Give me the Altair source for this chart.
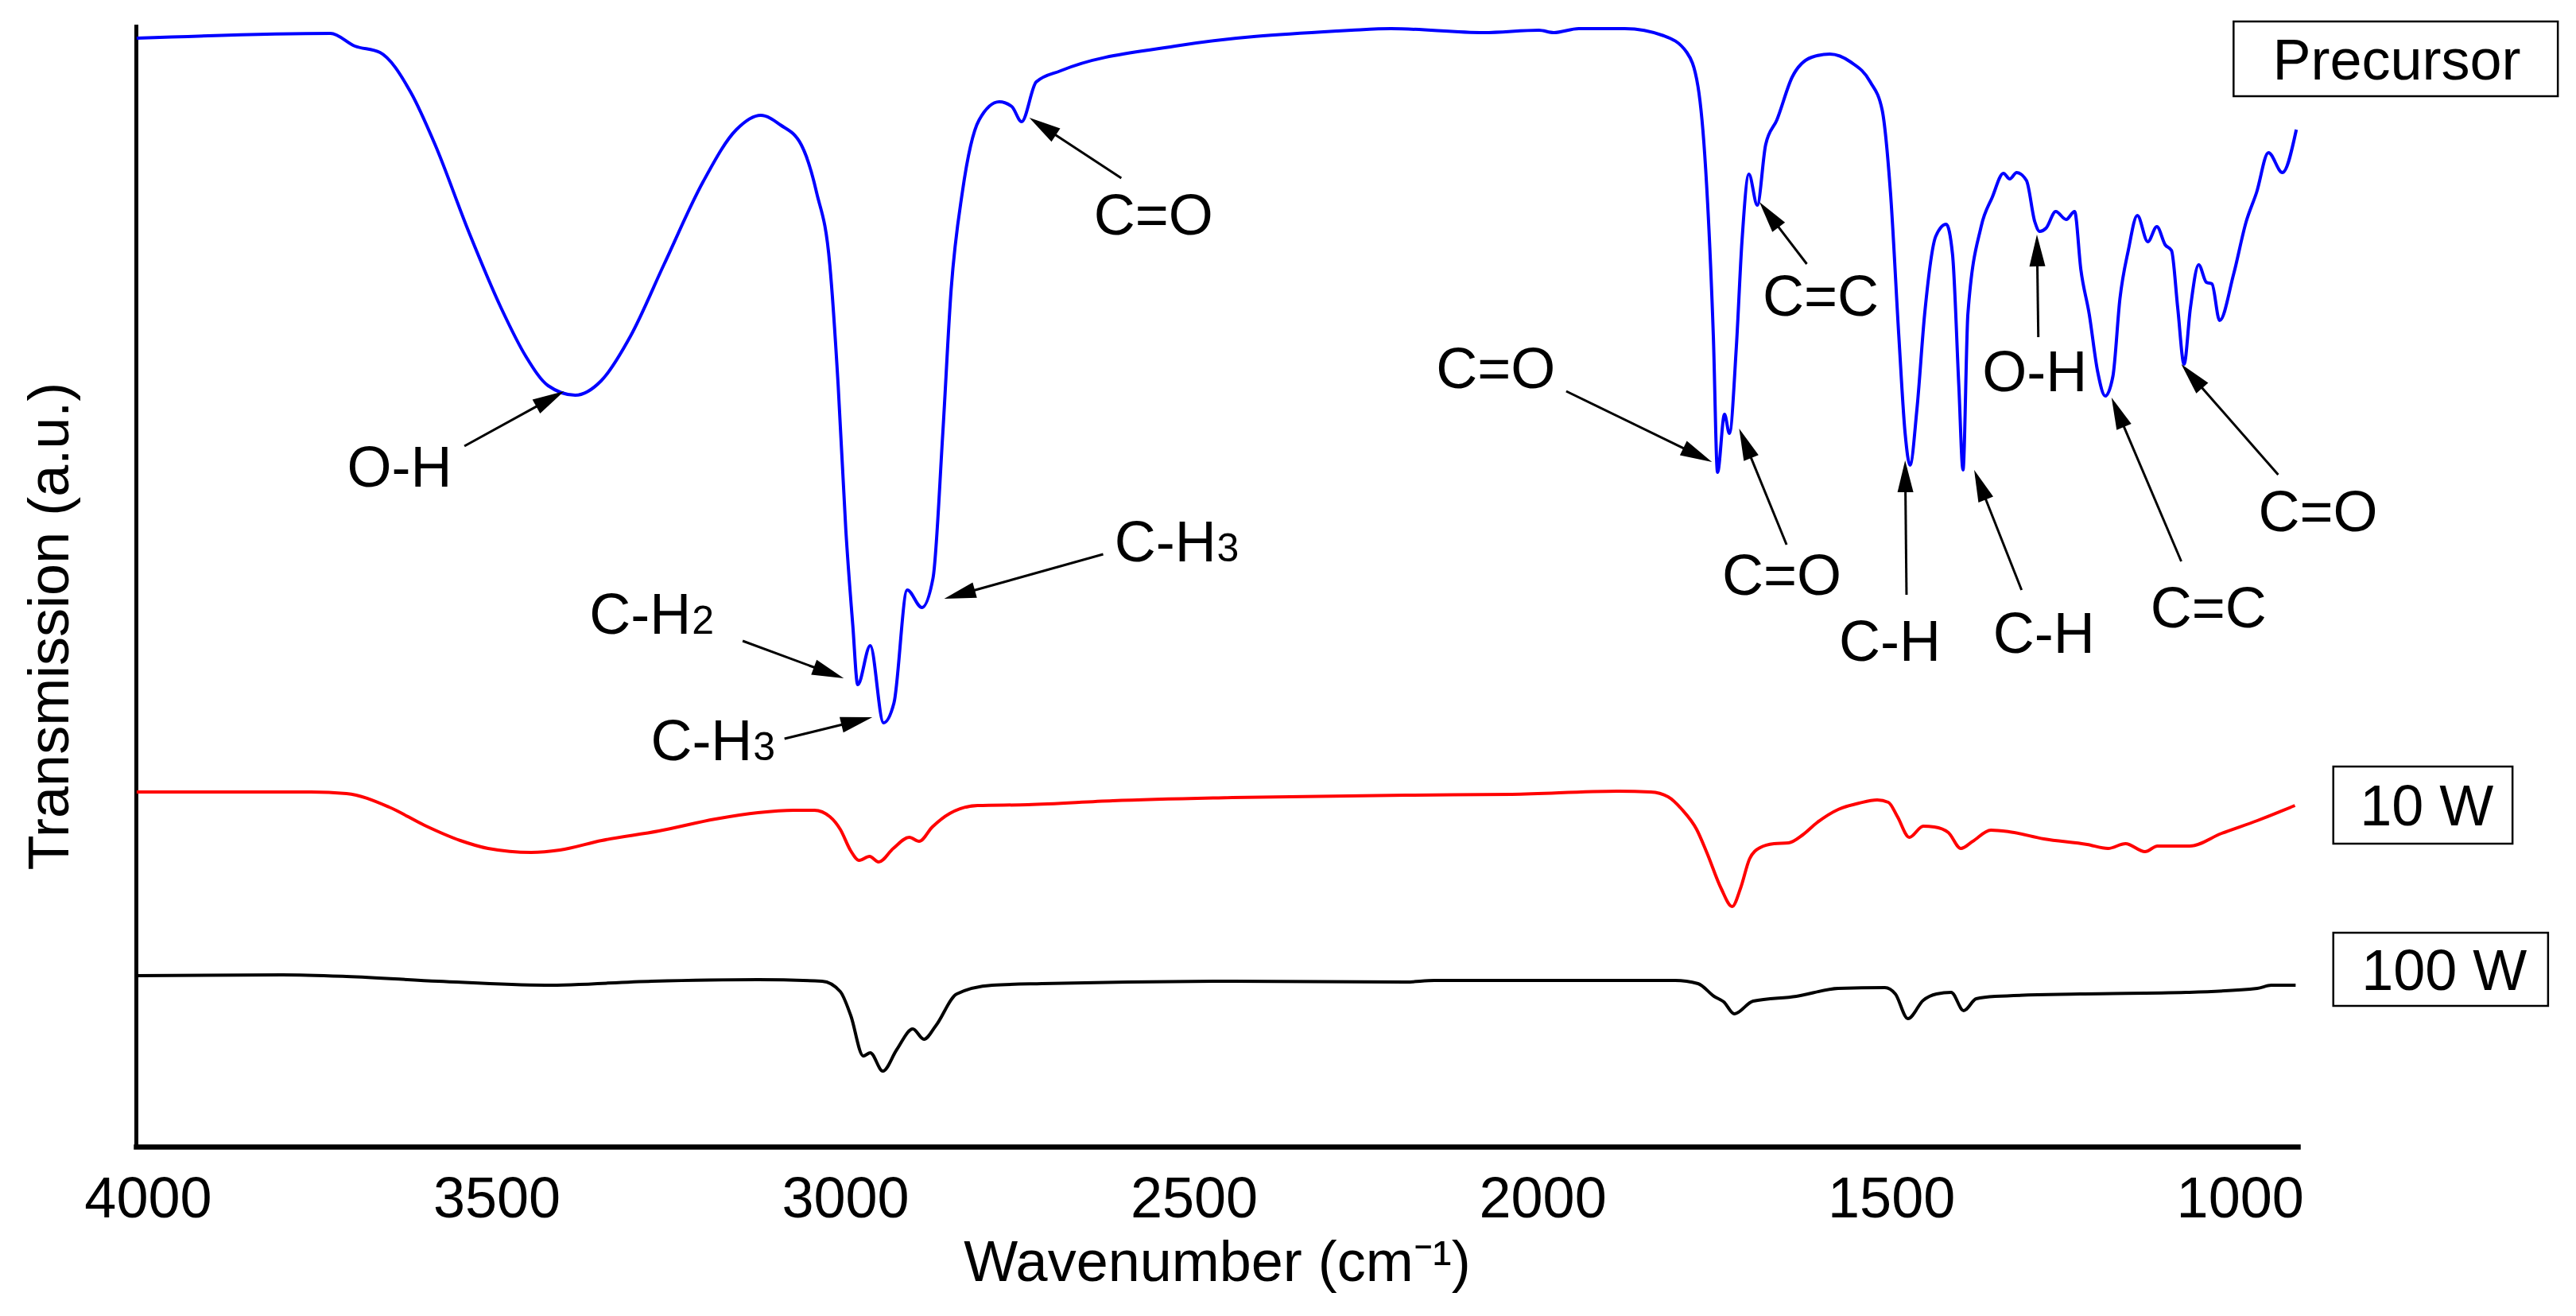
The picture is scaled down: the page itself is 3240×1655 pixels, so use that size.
import math
import altair as alt
import pandas as pd

FONT = "Liberation Sans"

# ---------------- data (wavenumber, transmission in arbitrary units) ----------------
blue_wn = [4016, 3738, 3703, 3667, 3623, 3588, 3540, 3493, 3458, 3426, 3387, 3350, 3308, 3260, 3204,
           3156, 3121, 3093, 3063, 3041, 3022, 3010, 2999, 2989, 2982, 2964, 2945, 2930, 2911, 2890,
           2874, 2860, 2848, 2832, 2808, 2779, 2761, 2747, 2726, 2691, 2527, 2295, 2274, 2217, 2084,
           2005, 1984, 1948, 1882, 1826, 1793, 1777, 1766, 1755, 1749, 1739, 1732, 1722, 1714, 1704,
           1692, 1680, 1664, 1642, 1614, 1588, 1558, 1530, 1513, 1501, 1489, 1480, 1473, 1463, 1452,
           1436, 1421, 1412, 1403, 1397, 1390, 1371, 1355, 1339, 1330, 1320, 1306, 1294, 1287, 1278,
           1264, 1249, 1237, 1228, 1216, 1204, 1193, 1182, 1172, 1160, 1147, 1132, 1119, 1107, 1098,
           1089, 1080, 1071, 1059, 1048, 1040, 1029, 1009, 991, 976, 959, 939, 919]
blue_v = [1394, 1400, 1384, 1376, 1326, 1260, 1151, 1054, 994, 957, 945, 963, 1019, 1109, 1213,
          1279, 1297, 1285, 1260, 1200, 1109, 957, 775, 655, 581, 630, 533, 558, 700, 678,
          715, 897, 1078, 1200, 1291, 1314, 1308, 1289, 1339, 1353, 1384, 1403, 1404, 1406, 1401,
          1404, 1401, 1406, 1406, 1397, 1376, 1333, 1229, 1019, 848, 921, 897, 1006, 1138, 1223,
          1184, 1260, 1291, 1345, 1370, 1374, 1364, 1339, 1304, 1200, 1019, 897, 857, 928, 1047,
          1145, 1160, 1122, 957, 851, 1047, 1157, 1194, 1224, 1217, 1225, 1215, 1163, 1151, 1155,
          1176, 1166, 1176, 1103, 1047, 975, 944, 969, 1066, 1127, 1171, 1138, 1157, 1134, 1127,
          1054, 984, 1054, 1109, 1087, 1085, 1039, 1097, 1163, 1200, 1250, 1225, 1279]

red_wn = [4016, 3766, 3715, 3654, 3603, 3552, 3512, 3450, 3409, 3349, 3267, 3186, 3125, 3074, 3044,
          3022, 3007, 2992, 2980, 2965, 2952, 2931, 2908, 2894, 2875, 2850, 2810, 2738, 2616, 2445,
          2196, 2044, 1891, 1845, 1820, 1800, 1779, 1764, 1744, 1728, 1716, 1703, 1688, 1668, 1647,
          1627, 1607, 1576, 1546, 1520, 1504, 1491, 1474, 1454, 1438, 1418, 1400, 1383, 1357, 1331,
          1281, 1219, 1189, 1164, 1136, 1118, 1072, 1026, 975, 921]
red_v = [446, 446, 444, 427, 404, 385, 375, 370, 373, 385, 397, 412, 420, 423, 423,
         415, 399, 372, 360, 365, 358, 375, 389, 384, 402, 419, 429, 430, 435, 439,
         442, 443, 447, 446, 440, 424, 399, 369, 325, 302, 325, 362, 376, 381, 382,
         392, 407, 424, 432, 436, 433, 415, 389, 403, 402, 395, 375, 384, 398, 396,
         387, 380, 375, 381, 371, 378, 378, 394, 410, 429]

black_wn = [4016, 3807, 3715, 3583, 3430, 3277, 3125, 3033, 3007, 2992, 2974, 2964, 2946, 2926, 2903,
            2887, 2870, 2840, 2789, 2718, 2445, 2196, 2155, 1810, 1777, 1754, 1740, 1725, 1698, 1636,
            1576, 1509, 1494, 1476, 1454, 1435, 1414, 1396, 1378, 1351, 1229, 1077, 975, 955, 920]
black_v = [215, 216, 214, 208, 203, 208, 210, 208, 195, 165, 114, 118, 95, 122, 148,
           135, 152, 192, 203, 205, 208, 207, 209, 209, 205, 189, 182, 167, 183, 189,
           199, 200, 192, 161, 184, 192, 194, 171, 186, 189, 192, 194, 199, 203, 203]

series_names = ["Precursor", "10 W", "100 W"]
series_colors = ["#0000FF", "#FF0000", "#000000"]

# peak labels (centered)
label_text = ["O-H", "C=O", "C=O", "C=O", "C=C", "C-H", "C-H", "O-H", "C=C", "C=O"]
label_wn = [3639, 2558, 2067, 1657, 1601, 1502, 1281, 1294, 1045, 888]
label_v = [830, 1147, 954, 694, 1045, 611, 621, 950, 653, 774]

# labels with subscripts
sub_main = ["C-H", "C-H", "C-H"]
sub_text = ["3", "2", "3"]
sub_wn = [2468, 3221, 3133]
sub_v = [736, 645, 486]

# arrows: tail -> tip
arrow_tail_wn = [3546, 2604, 2630, 3147, 3087, 1966, 1650, 1621, 1478, 1313, 1289, 1084, 945]
arrow_tail_v = [881, 1218, 745, 636, 513, 950, 757, 1110, 694, 700, 1018, 736, 845]
arrow_tip_wn = [3403, 2736, 2858, 3002, 2961, 1757, 1718, 1689, 1480, 1381, 1291, 1184, 1084]
arrow_tip_v = [950, 1294, 689, 589, 540, 861, 903, 1188, 863, 851, 1147, 942, 984]

# boxed series names
legend_wn = [775, 732, 707]
legend_v = [1342, 404, 197]
box_wn1 = [1009, 866, 866]
box_wn2 = [544, 609, 558]
box_v1 = [1415, 478, 269]
box_v2 = [1321, 381, 177]

x_ticks = [4000, 3500, 3000, 2500, 2000, 1500, 1000]

# ---------------- layout ----------------
W, H = 2719, 1409
X0, X1 = 4017, 917
Y0, Y1 = 0, 1409
HEAD_LEN = 40


def px(w):
    return (X0 - w) / (X0 - X1) * W


def py(v):
    return H - (v - Y0) / (Y1 - Y0) * H


def inv_px(p):
    return X0 - p / W * (X0 - X1)


def inv_py(p):
    return Y0 + (H - p) / H * (Y1 - Y0)


rows = []
for name, wns, vs in [("Precursor", blue_wn, blue_v), ("10 W", red_wn, red_v), ("100 W", black_wn, black_v)]:
    for a, b in zip(wns, vs):
        rows.append({"wn": a, "v": b, "series": name})
lines_df = pd.DataFrame(rows)

arrow_rows = []
for tw, tv, hw, hv in zip(arrow_tail_wn, arrow_tail_v, arrow_tip_wn, arrow_tip_v):
    tx, ty = px(tw), py(tv)
    hx, hy = px(hw), py(hv)
    dx, dy = hx - tx, hy - ty
    L = math.hypot(dx, dy)
    ux, uy = dx / L, dy / L
    ex, ey = hx - ux * (HEAD_LEN - 4), hy - uy * (HEAD_LEN - 4)
    ang = math.degrees(math.atan2(dx, -dy)) % 360
    arrow_rows.append({"wn": tw, "v": tv, "wn2": inv_px(ex), "v2": inv_py(ey),
                       "tip_wn": hw, "tip_v": hv, "angle": ang})
arrows_df = pd.DataFrame(arrow_rows)

labels_df = pd.DataFrame({"text": label_text, "wn": label_wn, "v": label_v})
subs_df = pd.DataFrame({"main": sub_main, "sub": sub_text, "wn": sub_wn, "v": sub_v})
legend_df = pd.DataFrame({"name": series_names, "wn": legend_wn, "v": legend_v,
                          "b1": box_wn1, "b2": box_wn2, "c1": box_v1, "c2": box_v2})

x_scale = alt.Scale(domain=[X0, X1], nice=False, zero=False)
y_scale = alt.Scale(domain=[Y0, Y1], nice=False, zero=False)

x_axis = alt.Axis(values=x_ticks, format="d", title="Wavenumber (cm⁻¹)", ticks=False, tickSize=0,
                  grid=False, labelPadding=31, labelFont=FONT, labelFontSize=72, labelColor="black",
                  titleFont=FONT, titleFontSize=72, titleFontWeight="normal", titleColor="black",
                  titleY=168, titleBaseline="alphabetic", domainWidth=6.5, domainColor="black",
                  domainCap="square", labelFlush=False, labelOverlap=False)
y_axis = alt.Axis(title="Transmission (a.u.)", labels=False, ticks=False, tickSize=0, grid=False,
                  domainWidth=5, domainColor="black", domainCap="square",
                  titleFont=FONT, titleFontSize=72, titleFontWeight="normal", titleColor="black",
                  titleAngle=270, titleX=-86, titleY=754, titleAlign="center",
                  titleBaseline="alphabetic")


def X(field):
    return alt.X(field, scale=x_scale, axis=x_axis)


def Y(field):
    return alt.Y(field, scale=y_scale, axis=y_axis)


lines = alt.Chart(lines_df).mark_line(strokeWidth=4, interpolate="monotone").encode(
    x=X("wn:Q"),
    y=Y("v:Q"),
    color=alt.Color("series:N", scale=alt.Scale(domain=series_names, range=series_colors), legend=None),
)

arrow_lines = alt.Chart(arrows_df).mark_rule(color="black", strokeWidth=3).encode(
    x=X("wn:Q"),
    y=Y("v:Q"),
    x2="wn2:Q",
    y2="v2:Q",
)

arrow_heads = alt.Chart(arrows_df).mark_point(
    shape="M0,0L-0.5,2L0.5,2Z", filled=True, size=1600, color="black", opacity=1, strokeWidth=0
).encode(
    x=X("tip_wn:Q"),
    y=Y("tip_v:Q"),
    angle=alt.Angle("angle:Q", scale=None),
)

labels = alt.Chart(labels_df).mark_text(font=FONT, fontSize=72, align="center",
                                        baseline="alphabetic", color="black").encode(
    x=X("wn:Q"),
    y=Y("v:Q"),
    text="text:N",
)

sub_mains = alt.Chart(subs_df).mark_text(font=FONT, fontSize=72, align="right",
                                         baseline="alphabetic", color="black").encode(
    x=X("wn:Q"),
    y=Y("v:Q"),
    text="main:N",
)

subs = alt.Chart(subs_df).mark_text(font=FONT, fontSize=50, align="left", dx=1,
                                    baseline="alphabetic", color="black").encode(
    x=X("wn:Q"),
    y=Y("v:Q"),
    text="sub:N",
)

boxes = alt.Chart(legend_df).mark_rect(fill="white", stroke="black", strokeWidth=2.5).encode(
    x=X("b1:Q"),
    x2="b2:Q",
    y=Y("c1:Q"),
    y2="c2:Q",
)

legend_text = alt.Chart(legend_df).mark_text(font=FONT, fontSize=72, align="center",
                                             baseline="alphabetic", color="black").encode(
    x=X("wn:Q"),
    y=Y("v:Q"),
    text="name:N",
)

chart = alt.layer(
    lines, arrow_lines, arrow_heads, labels, sub_mains, subs, boxes, legend_text
).properties(
    width=W,
    height=H,
    autosize=alt.AutoSizeParams(type="none"),
    padding={"left": 163, "top": 25, "right": 342, "bottom": 205},
).configure(
    font=FONT, background="white"
).configure_view(stroke=None)

chart.save("out.html", embed_options={"renderer": "svg", "actions": False})
